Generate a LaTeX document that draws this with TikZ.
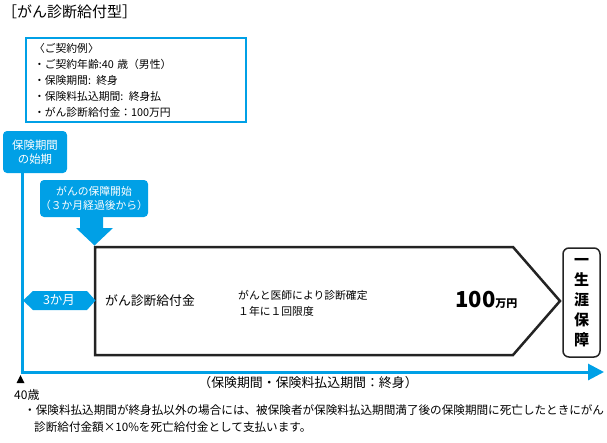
\documentclass[tikz,border=0pt]{standalone}
\usepackage{fontspec}
\setmainfont{Noto Sans CJK JP}
\usetikzlibrary{positioning,arrows.meta,calc}
\definecolor{hoken}{RGB}{0,160,230}
\definecolor{waku}{RGB}{35,35,35}
\newcommand{\fs}[1]{\fontsize{#1}{#1}\selectfont}
\tikzset{
  tag/.style={fill=hoken, text=white, rounded corners=4pt, align=center,
              font=\fontsize{11.4}{14}\selectfont, inner sep=0pt},
  plain/.style={inner sep=0pt, font=\fs{11}},
  axis/.style={draw=hoken, line width=3pt},
  benefit/.style={draw=waku, line width=2.5pt, fill=white},
}

\begin{document}
\begin{tikzpicture}[x=1pt, y=-1pt]
  \useasboundingbox (0,0) rectangle (607,442);

  %% title and contract example
  \node[plain, font=\fs{15}, anchor=west] (title) at (2,12) {［がん診断給付型］};
  \node[draw=hoken, line width=2pt, anchor=north west, align=left,
        text width=204pt, inner xsep=8pt, minimum height=84pt,
        font=\fontsize{10.8}{16}\selectfont] (example) at (25,37)
    {〈ご契約例〉\\
     ・ご契約年齢:40 歳（男性）\\
     ・保険期間: 終身\\
     ・保険料払込期間: 終身払\\
     ・がん診断給付金：100万円};

  %% start of coverage and the time axis
  \node[tag, minimum width=64pt, minimum height=42pt] (start) at (35,152)
    {保険期間\\の始期};
  \coordinate (origin) at (22,372);
  \coordinate (axisend) at (604,372);
  \draw[axis] (origin |- start.south) -- (origin);
  \draw[axis, -{Triangle[length=16pt,width=16pt]}] ([xshift=-1.5pt]origin) -- (axisend);

  \node[tag, font=\fontsize{10.8}{14}\selectfont, minimum width=108pt,
        minimum height=37pt] (cover) at (94,198.5)
    {がんの保障開始\\（３か月経過後から）};
  \fill[hoken] (80,216) -- (103,216) -- (103,228) -- (113,228) -- (94.5,245.5)
    -- (76,228) -- (80,228) -- cycle;

  %% benefit arrow
  \draw[benefit] (95,247) -- (513,247) -- (560,301) -- (513,355) -- (95,355) -- cycle;
  \fill[hoken] (23,300.5) -- (33,291) -- (87,291) -- (95.5,300.5) -- (87,310)
    -- (33,310) -- cycle;
  \node[plain, font=\fs{12.5}, text=white] (wait) at (59,300.5) {3か月};
  \node[plain, font=\fs{12.8}, anchor=west] (name) at (105,301) {がん診断給付金};
  \node[plain, anchor=west, align=left, font=\fontsize{10.8}{16}\selectfont]
    (cond) at (238,303) {がんと医師により診断確定\\ １年に１回限度};
  \node[plain, anchor=west] (amount) at (455,300)
    {\textbf{\fs{22}100}\textbf{\fs{11}万円}};

  \node[draw=waku, line width=1.5pt, rounded corners=6pt, align=center,
        minimum width=37pt, minimum height=109pt, inner sep=0pt,
        font=\fontsize{15}{20}\selectfont\bfseries] (life) at (581.5,302.5)
    {一\\生\\涯\\保\\障};

  %% axis labels and note
  \fill (16.5,383) -- (24.5,383) -- (20.5,375) -- cycle;
  \node[plain, font=\fs{12}, anchor=west] (age) at (14,395) {40歳};
  \node[plain, font=\fs{12.9}] (period) at (308,383)
    {（保険期間・保険料払込期間：終身）};
  \node[plain, font=\fs{11.6}, anchor=west] (note1) at (24,410)
    {・保険料払込期間が終身払以外の場合には、被保険者が保険料払込期間満了後の保険期間に死亡したときにがん};
  \node[plain, font=\fs{11.6}, anchor=west] (note2) at (34,427)
    {診断給付金額×10\%を死亡給付金として支払います。};
\end{tikzpicture}
\end{document}
